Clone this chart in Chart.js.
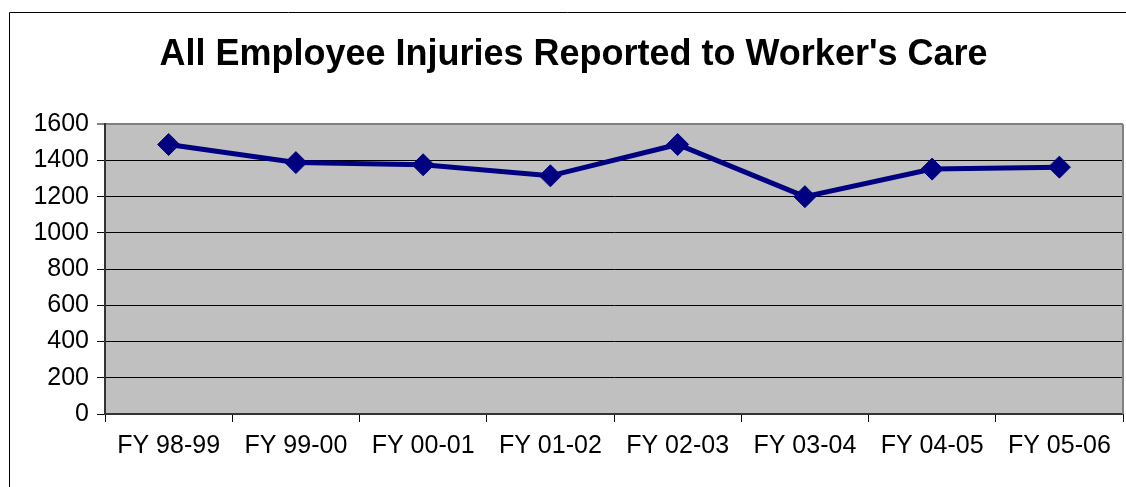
<!DOCTYPE html>
<html>
<head>
<meta charset="utf-8">
<script src="https://cdn.jsdelivr.net/npm/chart.js@4/dist/chart.umd.min.js"></script>
<style>
  html, body { margin:0; padding:0; background:#fff; }
  #wrap { width:1126px; height:487px; position:relative; }
</style>
</head>
<body>
<div id="wrap"><canvas id="c" width="1126" height="487"></canvas></div>
<script>
const TITLE = "All Employee Injuries Reported to Worker's Care";
const years = ['FY 98-99','FY 99-00','FY 00-01','FY 01-02','FY 02-03','FY 03-04','FY 04-05','FY 05-06'];
const injuries = [1488, 1388, 1376, 1315, 1488, 1200, 1352, 1363];
const yTicks = [0, 200, 400, 600, 800, 1000, 1200, 1400, 1600];

const FONT = "'Liberation Sans', Arial, sans-serif";

// gray plot area + frame round the whole chart
const plotBg = {
  id: 'plotBg',
  beforeDraw(chart) {
    const {ctx, chartArea: a} = chart;
    ctx.save();
    ctx.strokeStyle = '#000';
    ctx.lineWidth = 1;
    ctx.beginPath();
    ctx.moveTo(9.5, 487);
    ctx.lineTo(9.5, 12.5);
    ctx.lineTo(1126, 12.5);
    ctx.stroke();
    ctx.fillStyle = '#c0c0c0';
    ctx.fillRect(a.left, a.top, a.right - a.left, a.bottom - a.top);
    ctx.restore();
  },
  beforeDatasetsDraw(chart) {
    const {ctx, chartArea: a} = chart;
    ctx.save();
    ctx.strokeStyle = '#808080';
    ctx.lineWidth = 2;
    ctx.beginPath();
    ctx.moveTo(a.right, a.bottom);
    ctx.lineTo(a.right, a.top);
    ctx.stroke();
    ctx.restore();
  }
};

new Chart(document.getElementById('c'), {
  type: 'line',
  data: {
    labels: years,
    datasets: [{
      data: injuries,
      borderColor: '#000080',
      backgroundColor: '#000080',
      borderWidth: 5,
      pointStyle: 'rectRot',
      pointRadius: 11,
      pointHoverRadius: 11,
      pointBorderWidth: 1,
      tension: 0,
      clip: false
    }]
  },
  options: {
    responsive: false,
    animation: false,
    events: [],
    layout: { autoPadding: false, padding: { left: 24, right: 3, top: 0, bottom: 0 } },
    plugins: {
      legend: { display: false },
      tooltip: { enabled: false },
      title: {
        display: true,
        text: TITLE,
        color: '#000',
        font: { family: FONT, size: 36, weight: 'bold', lineHeight: 1.2 },
        padding: { top: 33, bottom: 48 }
      }
    },
    scales: {
      x: {
        offset: true,
        grid: {
          offset: true,
          drawOnChartArea: false,
          drawTicks: true,
          tickLength: 8,
          color: '#000'
        },
        border: { color: '#333', width: 2 },
        ticks: {
          color: '#000',
          font: { family: FONT, size: 25 },
          padding: 9,
          maxRotation: 0,
          autoSkip: false
        },
        afterFit(s) { s.height = 73; s.paddingLeft = 0; s.paddingRight = 0; }
      },
      y: {
        min: 0,
        max: 1600,
        afterBuildTicks(s) { s.ticks = yTicks.map(v => ({ value: v })); },
        grid: {
          drawTicks: true,
          tickLength: 8,
          color: c => c.tick && c.tick.value === 1600 ? '#808080' : '#000',
          lineWidth: c => c.tick && c.tick.value === 1600 ? 2 : 1
        },
        border: { color: '#333', width: 2 },
        ticks: {
          color: '#000',
          font: { family: FONT, size: 25 },
          padding: 8,
          callback: v => String(v)
        },
        afterFit(s) { s.width = 81; }
      }
    }
  },
  plugins: [plotBg]
});
</script>
</body>
</html>
